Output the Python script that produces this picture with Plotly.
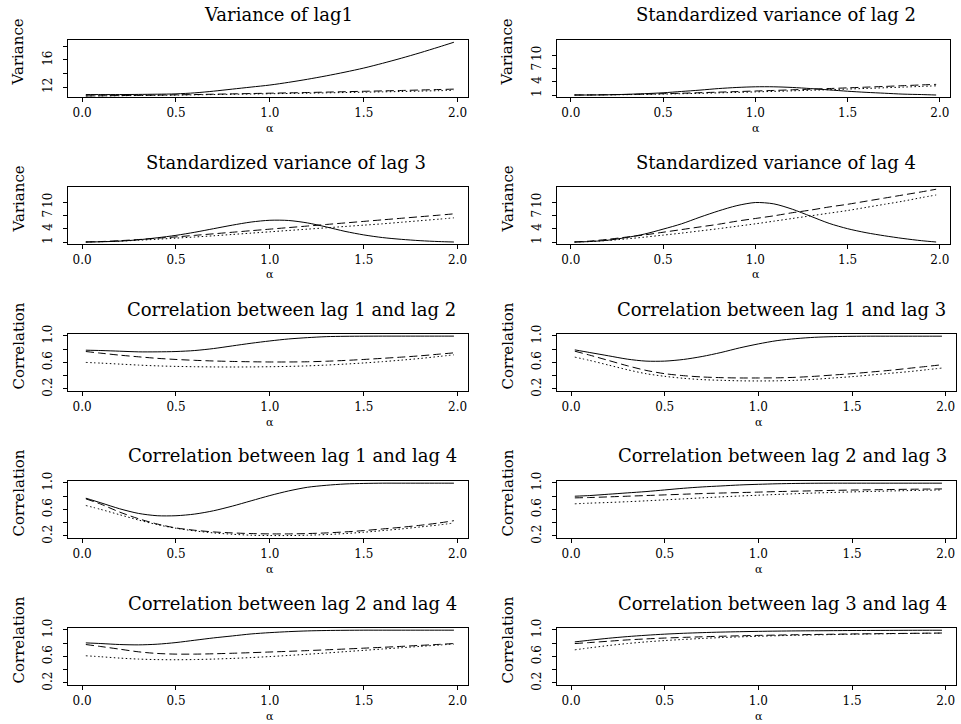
import plotly.graph_objects as go

W, H = 961, 724

# ---------------- data ----------------
alpha = [0.02, 0.1, 0.2, 0.3, 0.4, 0.5, 0.6, 0.7, 0.8, 0.9, 1.0,
         1.1, 1.2, 1.3, 1.4, 1.5, 1.6, 1.7, 1.8, 1.9, 1.98]

titles = ["Variance of lag1", "Standardized variance of lag 2",
          "Standardized variance of lag 3", "Standardized variance of lag 4",
          "Correlation between lag 1 and lag 2", "Correlation between lag 1 and lag 3",
          "Correlation between lag 1 and lag 4", "Correlation between lag 2 and lag 3",
          "Correlation between lag 2 and lag 4", "Correlation between lag 3 and lag 4"]
ylabels = ["Variance"] * 4 + ["Correlation"] * 6

# Variance of lag 1
v1_solid = [10.9, 10.9, 10.9, 10.92, 10.95, 11.0, 11.15, 11.4, 11.7, 12.0, 12.3,
            12.7, 13.15, 13.65, 14.2, 14.8, 15.5, 16.25, 17.05, 17.9, 18.6]
v1_dash = [10.7, 10.72, 10.75, 10.78, 10.82, 10.86, 10.9, 10.95, 11.0, 11.05, 11.1,
           11.15, 11.2, 11.26, 11.32, 11.38, 11.44, 11.5, 11.57, 11.64, 11.7]
v1_dot = [10.7, 10.71, 10.73, 10.76, 10.79, 10.82, 10.86, 10.9, 10.94, 10.98, 11.02,
          11.06, 11.1, 11.15, 11.2, 11.25, 11.3, 11.35, 11.41, 11.47, 11.52]

# Standardized variance of lag 2
v2_solid = [1.0, 1.0, 1.05, 1.15, 1.3, 1.5, 1.8, 2.1, 2.45, 2.7, 2.85,
            2.85, 2.7, 2.45, 2.15, 1.85, 1.6, 1.4, 1.2, 1.1, 1.0]
v2_dash = [1.0, 1.02, 1.06, 1.12, 1.2, 1.3, 1.4, 1.52, 1.64, 1.77, 1.9,
           2.03, 2.17, 2.31, 2.46, 2.61, 2.77, 2.93, 3.1, 3.27, 3.4]
v2_dot = [1.0, 1.01, 1.04, 1.08, 1.14, 1.21, 1.29, 1.38, 1.48, 1.59, 1.7,
          1.82, 1.94, 2.07, 2.2, 2.34, 2.48, 2.63, 2.78, 2.94, 3.07]

# Standardized variance of lag 3
v3_solid = [1.0, 1.05, 1.2, 1.5, 1.95, 2.5, 3.2, 4.0, 4.8, 5.5, 5.9,
            5.85, 5.3, 4.4, 3.4, 2.6, 2.0, 1.6, 1.3, 1.1, 1.0]
v3_dash = [1.0, 1.1, 1.3, 1.55, 1.85, 2.15, 2.5, 2.85, 3.2, 3.55, 3.9,
           4.25, 4.6, 4.95, 5.3, 5.65, 6.0, 6.35, 6.7, 7.05, 7.35]
v3_dot = [1.0, 1.07, 1.2, 1.4, 1.62, 1.87, 2.13, 2.4, 2.7, 3.0, 3.3,
          3.6, 3.9, 4.2, 4.5, 4.8, 5.1, 5.45, 5.8, 6.15, 6.45]

# Standardized variance of lag 4
v4_solid = [1.0, 1.1, 1.4, 2.0, 2.8, 3.9, 5.1, 6.6, 8.0, 9.2, 9.9,
            9.6, 8.4, 6.8, 5.2, 4.0, 3.1, 2.4, 1.8, 1.3, 1.0]
v4_dash = [1.0, 1.2, 1.6, 2.1, 2.6, 3.2, 3.8, 4.4, 5.0, 5.7, 6.3,
           6.9, 7.6, 8.2, 8.9, 9.5, 10.2, 10.9, 11.6, 12.3, 12.9]
v4_dot = [1.0, 1.1, 1.35, 1.7, 2.1, 2.55, 3.0, 3.5, 4.0, 4.55, 5.1,
          5.7, 6.3, 6.9, 7.5, 8.1, 8.8, 9.5, 10.2, 11.0, 11.6]

# Correlation lag 1 / lag 2
c12_solid = [0.785, 0.78, 0.77, 0.76, 0.76, 0.765, 0.78, 0.81, 0.85, 0.89, 0.925,
             0.955, 0.975, 0.99, 0.995, 0.997, 0.998, 0.998, 0.998, 0.998, 0.998]
c12_dash = [0.765, 0.74, 0.71, 0.685, 0.662, 0.645, 0.632, 0.622, 0.615, 0.61, 0.607,
            0.607, 0.61, 0.618, 0.63, 0.645, 0.662, 0.68, 0.7, 0.725, 0.745]
c12_dot = [0.6, 0.59, 0.575, 0.56, 0.548, 0.54, 0.535, 0.532, 0.531, 0.532, 0.535,
           0.54, 0.548, 0.56, 0.575, 0.592, 0.612, 0.635, 0.66, 0.69, 0.715]

# Correlation lag 1 / lag 3
c13_solid = [0.79, 0.75, 0.7, 0.65, 0.62, 0.62, 0.645, 0.69, 0.75, 0.82, 0.88,
             0.93, 0.96, 0.98, 0.99, 0.995, 0.997, 0.997, 0.997, 0.997, 0.997]
c13_dash = [0.77, 0.71, 0.63, 0.55, 0.48, 0.43, 0.4, 0.38, 0.37, 0.365, 0.365,
            0.367, 0.375, 0.39, 0.41, 0.43, 0.455, 0.48, 0.51, 0.54, 0.565]
c13_dot = [0.68, 0.63, 0.56, 0.49, 0.43, 0.39, 0.36, 0.34, 0.33, 0.322, 0.32,
           0.322, 0.33, 0.345, 0.365, 0.385, 0.41, 0.435, 0.46, 0.49, 0.515]

# Correlation lag 1 / lag 4
c14_solid = [0.77, 0.7, 0.61, 0.54, 0.505, 0.505, 0.53, 0.58, 0.65, 0.73, 0.81,
             0.88, 0.935, 0.965, 0.985, 0.993, 0.997, 0.997, 0.997, 0.997, 0.997]
c14_dash = [0.76, 0.68, 0.56, 0.46, 0.38, 0.32, 0.285, 0.26, 0.245, 0.235, 0.23,
            0.23, 0.235, 0.245, 0.26, 0.28, 0.305, 0.33, 0.36, 0.395, 0.43]
c14_dot = [0.66, 0.6, 0.52, 0.44, 0.37, 0.315, 0.275, 0.245, 0.225, 0.21, 0.205,
           0.205, 0.21, 0.22, 0.235, 0.255, 0.28, 0.305, 0.335, 0.365, 0.395]

# Correlation lag 2 / lag 3
c23_solid = [0.8, 0.81, 0.83, 0.85, 0.87, 0.895, 0.92, 0.94, 0.955, 0.97, 0.98,
             0.988, 0.993, 0.996, 0.997, 0.997, 0.997, 0.997, 0.997, 0.997, 0.997]
c23_dash = [0.775, 0.78, 0.79, 0.8, 0.81, 0.82, 0.83, 0.84, 0.848, 0.855, 0.862,
            0.87, 0.876, 0.882, 0.888, 0.893, 0.897, 0.901, 0.905, 0.908, 0.91]
c23_dot = [0.685, 0.695, 0.705, 0.717, 0.73, 0.745, 0.76, 0.775, 0.79, 0.803, 0.815,
           0.827, 0.838, 0.848, 0.857, 0.865, 0.872, 0.879, 0.885, 0.89, 0.895]

# Correlation lag 2 / lag 4
c24_solid = [0.805, 0.795, 0.78, 0.775, 0.785, 0.81, 0.845, 0.88, 0.91, 0.94, 0.96,
             0.975, 0.986, 0.992, 0.995, 0.997, 0.997, 0.997, 0.997, 0.997, 0.997]
c24_dash = [0.78, 0.75, 0.71, 0.67, 0.645, 0.635, 0.635, 0.64, 0.648, 0.657, 0.667,
            0.677, 0.688, 0.7, 0.712, 0.725, 0.738, 0.752, 0.767, 0.782, 0.795]
c24_dot = [0.61, 0.595, 0.575, 0.56, 0.552, 0.55, 0.553, 0.56, 0.57, 0.583, 0.598,
           0.615, 0.633, 0.652, 0.672, 0.692, 0.712, 0.732, 0.752, 0.772, 0.787]

# Correlation lag 3 / lag 4
c34_solid = [0.82, 0.845, 0.875, 0.9, 0.92, 0.937, 0.95, 0.96, 0.968, 0.974, 0.979,
             0.983, 0.986, 0.988, 0.99, 0.992, 0.993, 0.994, 0.995, 0.996, 0.996]
c34_dash = [0.795, 0.81, 0.83, 0.85, 0.865, 0.878, 0.888, 0.897, 0.905, 0.912, 0.918,
            0.923, 0.928, 0.932, 0.936, 0.94, 0.943, 0.946, 0.949, 0.952, 0.954]
c34_dot = [0.7, 0.73, 0.765, 0.795, 0.82, 0.84, 0.857, 0.872, 0.885, 0.896, 0.905,
           0.913, 0.92, 0.926, 0.931, 0.936, 0.94, 0.944, 0.947, 0.95, 0.952]

series = [
    (v1_solid, v1_dash, v1_dot), (v2_solid, v2_dash, v2_dot),
    (v3_solid, v3_dash, v3_dot), (v4_solid, v4_dash, v4_dot),
    (c12_solid, c12_dash, c12_dot), (c13_solid, c13_dash, c13_dot),
    (c14_solid, c14_dash, c14_dot), (c23_solid, c23_dash, c23_dot),
    (c24_solid, c24_dash, c24_dot), (c34_solid, c34_dash, c34_dot),
]

x_ticks = [0.0, 0.5, 1.0, 1.5, 2.0]
x_ticktext = ["0.0", "0.5", "1.0", "1.5", "2.0"]
var1_ticks = [12, 14, 16, 18]
var1_ticktext = ["12", "", "16", ""]
svar_ticks = [1, 4, 7, 10]
svar_ticktext = ["1", "4", "7", "10"]
corr_ticks = [0.2, 0.4, 0.6, 0.8, 1.0]
corr_ticktext = ["0.2", "", "0.6", "", "1.0"]

# ---------------- layout ----------------
FONT = "DejaVu Serif"
row_tops = [40, 187, 334, 481, 628]
box_h = 57
col_x = [(68, 468), (557, 950)]
col_x_low = [(68, 468), (557, 956)]
title_xc = [278, 776, 286, 776, 291, 781, 292, 782, 292, 782]

def fx(px):
    return px / W

def fy(py):
    return 1 - py / H

fig = go.Figure()
styles = [dict(dash="solid"), dict(dash="8px,4px"), dict(dash="1.5px,2.5px")]

annotations = []
layout_axes = {}
for i in range(10):
    r, c = divmod(i, 2)
    x0, x1 = (col_x if r < 2 else col_x_low)[c]
    top = row_tops[r]
    bot = top + box_h
    k = "" if i == 0 else str(i + 1)
    for ys, st in zip(series[i], styles):
        fig.add_trace(go.Scatter(x=alpha, y=ys, mode="lines",
                                 line=dict(color="black", width=1, shape="spline",
                                           smoothing=0.8, **st),
                                 xaxis="x" + k, yaxis="y" + k, showlegend=False,
                                 hoverinfo="skip"))
    if i == 0:
        yr, tv, tt = [10.54, 18.93], var1_ticks, var1_ticktext
    elif i < 4:
        yr, tv, tt = [0.55, 13.4], svar_ticks, svar_ticktext
    else:
        yr, tv, tt = [0.168, 1.03], corr_ticks, corr_ticktext
    common = dict(showline=True, linecolor="black", linewidth=1, mirror=True,
                  ticks="outside", ticklen=4, tickwidth=1, tickcolor="black",
                  showgrid=False, zeroline=False, automargin=False,
                  tickfont=dict(family=FONT, size=12, color="black"))
    layout_axes["xaxis" + k] = dict(domain=[fx(x0), fx(x1)], range=[-0.075, 2.055],
                                    anchor="y" + k, tickvals=x_ticks, ticktext=x_ticktext,
                                    ticklabelstandoff=1, **common)
    layout_axes["yaxis" + k] = dict(domain=[fy(bot), fy(top)], range=yr,
                                    anchor="x" + k, tickvals=tv, ticktext=tt,
                                    tickangle=-90, ticklabelstandoff=6, **common)
    # title
    annotations.append(dict(text=titles[i], x=fx(title_xc[i]), y=fy(top - 25),
                            xref="paper", yref="paper", showarrow=False,
                            xanchor="center", yanchor="middle",
                            font=dict(family=FONT, size=18, color="black")))
    # alpha label
    annotations.append(dict(text="α", x=fx((x0 + x1) / 2 + 2), y=fy(bot + 31),
                            xref="paper", yref="paper", showarrow=False,
                            xanchor="center", yanchor="middle",
                            font=dict(family=FONT, size=11, color="black")))
    # y label
    annotations.append(dict(text=ylabels[i], x=fx(x0 - 50), y=fy(top + box_h / 2 - 16),
                            xref="paper", yref="paper", showarrow=False, textangle=-90,
                            xanchor="center", yanchor="middle",
                            font=dict(family=FONT, size=15, color="black")))

fig.update_layout(template="none", width=W, height=H,
                  margin=dict(l=0, r=0, t=0, b=0, autoexpand=False),
                  paper_bgcolor="white", plot_bgcolor="white",
                  font=dict(family=FONT, color="black"),
                  annotations=annotations, showlegend=False, **layout_axes)

fig.write_html("out.html", config={"displayModeBar": False, "staticPlot": True},
               post_script="document.body.style.margin='0px';document.body.style.overflow='hidden';")
